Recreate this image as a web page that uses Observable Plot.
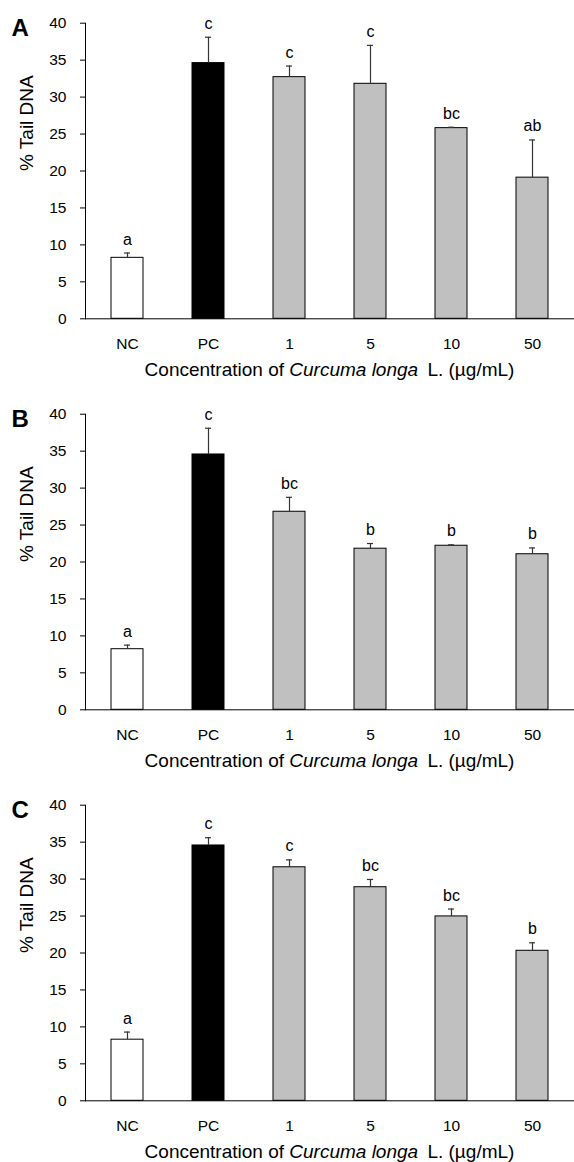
<!DOCTYPE html>
<html>
<head>
<meta charset="utf-8">
<script src="https://cdn.jsdelivr.net/npm/d3@7"></script>
<script src="https://cdn.jsdelivr.net/npm/@observablehq/plot@0.6"></script>
<style>
  body { margin: 0; background: #fff; }
  svg { display: block; }
</style>
</head>
<body>
<div id="chart"></div>
<script>
// ---- data ----
const categories = ["NC", "PC", "1", "5", "10", "50"];
const panelLetters = ["A", "B", "C"];
const yTicks = [0, 5, 10, 15, 20, 25, 30, 35, 40];

const meansA = [8.25, 34.6, 32.7, 31.8, 25.8, 19.1];
const sdA    = [0.65, 3.5, 1.5, 5.2, 0.12, 5.1];
const sigA   = ["a", "c", "c", "c", "bc", "ab"];

const meansB = [8.2, 34.55, 26.8, 21.8, 22.2, 21.05];
const sdB    = [0.55, 3.55, 1.95, 0.7, 0.12, 0.85];
const sigB   = ["a", "c", "bc", "b", "b", "b"];

const meansC = [8.27, 34.55, 31.6, 28.9, 24.95, 20.3];
const sdC    = [1.03, 1.05, 1.0, 1.05, 1.0, 1.08];
const sigC   = ["a", "c", "c", "bc", "bc", "b"];

const yTitle = "% Tail DNA";
const xTitleParts = ["Concentration of ", "Curcuma longa", " L. (µg/mL)"];

const panels = [
  {letter: panelLetters[0], means: meansA, sd: sdA, sig: sigA, height: 391},
  {letter: panelLetters[1], means: meansB, sd: sdB, sig: sigB, height: 391},
  {letter: panelLetters[2], means: meansC, sd: sdC, sig: sigC, height: 380}
];

const FONT = "'Liberation Sans', Arial, Helvetica, sans-serif";
const fillFor = c => c === "NC" ? "#ffffff" : c === "PC" ? "#000000" : "#c0c0c0";

const container = document.getElementById("chart");
const W = 574, mL = 85, mR = 0, mT = 22.7, axisBottom = 318.3;

for (const p of panels) {
  const rows = categories.map((c, i) => ({cat: c, mean: p.means[i], sd: p.sd[i], sig: p.sig[i]}));
  const svg = Plot.plot({
    width: W,
    height: p.height,
    marginLeft: mL,
    marginRight: mR,
    marginTop: mT,
    marginBottom: p.height - axisBottom,
    style: {fontFamily: FONT, fontSize: "15.5px", color: "#000", background: "#fff", overflow: "visible"},
    x: {domain: categories, paddingInner: 0.6, paddingOuter: 0.3, label: null},
    y: {domain: [0, 40], label: null},
    marks: [
      Plot.barY(rows, {x: "cat", y: "mean", fill: d => fillFor(d.cat), stroke: "#000", strokeWidth: 1}),
      Plot.ruleX(rows, {x: "cat", y1: "mean", y2: d => d.mean + d.sd, stroke: "#333", strokeWidth: 1.2}),
      Plot.tickY(rows, {x: "cat", y: d => d.mean + d.sd, stroke: "#333", strokeWidth: 1.2, insetLeft: 13, insetRight: 13}),
      Plot.text(rows, {x: "cat", y: d => d.mean + d.sd, text: "sig", lineAnchor: "bottom", dy: -8.5, fontSize: 16, fill: "#000"}),
      Plot.ruleY([0], {stroke: "#000", strokeWidth: 1}),
      Plot.frame({anchor: "left", stroke: "#000", strokeWidth: 1}),
      Plot.axisY({ticks: yTicks, tickSize: 5, tickPadding: 14, label: null, fontSize: 15.5}),
      Plot.axisX({tickSize: 0, tickPadding: 19, label: null, fontSize: 15.5}),
      Plot.text([yTitle], {text: d => d, frameAnchor: "left", rotate: -90, dx: -53, lineAnchor: "bottom", fontSize: 19, fill: "#000"}),
      Plot.text([p.letter], {text: d => d, frameAnchor: "top-left", textAnchor: "start", lineAnchor: "bottom", dx: -74, dy: 13, fontSize: 24, fontWeight: "bold", fill: "#000"})
    ]
  });
  // x-axis title with italic species name
  const t = d3.select(svg).append("text")
    .attr("x", (mL + W - mR) / 2)
    .attr("y", axisBottom + 57.7)
    .attr("text-anchor", "middle")
    .attr("font-family", FONT)
    .attr("font-size", 19)
    .attr("fill", "#000");
  t.append("tspan").text(xTitleParts[0]);
  t.append("tspan").attr("font-style", "italic").text(xTitleParts[1]);
  t.append("tspan").attr("dx", 4).text(xTitleParts[2]);
  container.appendChild(svg);
}
</script>
</body>
</html>
